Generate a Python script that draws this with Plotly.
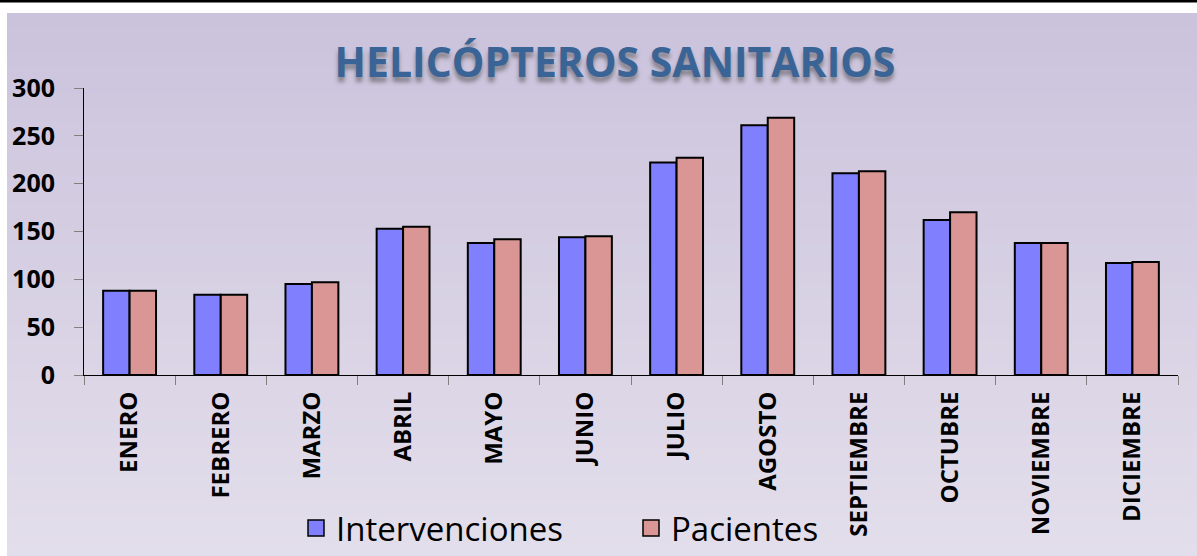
import plotly.graph_objects as go

# monthly data
meses = ['ENERO', 'FEBRERO', 'MARZO', 'ABRIL', 'MAYO', 'JUNIO', 'JULIO',
         'AGOSTO', 'SEPTIEMBRE', 'OCTUBRE', 'NOVIEMBRE', 'DICIEMBRE']
intervenciones = [88, 84, 95, 153, 138, 144, 222, 261, 211, 162, 138, 117]
pacientes = [88, 84, 97, 155, 142, 145, 227, 269, 213, 170, 138, 118]
y_ticks = [0, 50, 100, 150, 200, 250, 300]

W, H = 1197, 556
FONT = 'Open Sans'
COL_INT = '#8080FF'
COL_PAC = '#D99694'


def hex_mix(c1, c2, t):
    a = [int(c1[i:i + 2], 16) for i in (1, 3, 5)]
    b = [int(c2[i:i + 2], 16) for i in (1, 3, 5)]
    return '#' + ''.join(f'{round(x + (y - x) * t):02x}' for x, y in zip(a, b))


# pixel -> paper helpers (plot area is 84..1178 x 88..375)
def px(x):
    return (x - 84) / 1094


def py(y):
    return (375 - y) / 287


fig = go.Figure()
fig.add_trace(go.Bar(x=meses, y=intervenciones, name='Intervenciones', showlegend=False,
                     marker=dict(color=COL_INT, line=dict(color='black', width=2))))
fig.add_trace(go.Bar(x=meses, y=pacientes, name='Pacientes', showlegend=False,
                     marker=dict(color=COL_PAC, line=dict(color='black', width=2))))
# legend entries with bigger square swatches
for name, col in [('Intervenciones', COL_INT), ('Pacientes', COL_PAC)]:
    fig.add_trace(go.Scatter(x=[None], y=[None], mode='markers', name=name,
                             marker=dict(symbol='square', size=20, color=col,
                                         line=dict(color='black', width=1.5))))

# background: vertical gradient done with thin bands
shapes = []
n = 40
y_top, y_bot = 13, H
for i in range(n):
    a = y_top + (y_bot - y_top) * i / n
    b = y_top + (y_bot - y_top) * (i + 1) / n + 1.5
    shapes.append(dict(type='rect', xref='paper', yref='paper', layer='below',
                       x0=px(7), x1=px(W + 2), y0=py(b), y1=py(a),
                       fillcolor=hex_mix('#CBC3DC', '#E3DEEB', i / (n - 1)),
                       line=dict(width=0)))
# black rule at the very top
shapes.append(dict(type='line', xref='paper', yref='paper',
                   x0=px(-2), x1=px(W + 2), y0=py(1), y1=py(1),
                   line=dict(color='black', width=3)))

fig.update_layout(
    width=W, height=H,
    margin=dict(l=84, r=19, t=88, b=181, autoexpand=False),
    paper_bgcolor='white',
    plot_bgcolor='rgba(0,0,0,0)',
    shapes=shapes,
    barmode='group',
    bargap=0.42,
    bargroupgap=0,
    title=dict(text='<b>HELICÓPTEROS SANITARIOS</b>', x=615 / W, xanchor='center',
               y=1 - 63 / H, yanchor='middle', yref='container',
               font=dict(family=FONT, size=41, color='#3B6496',
                         shadow='0px 5px 4px rgba(70,70,70,0.55)')),
    legend=dict(orientation='h', x=px(296), xanchor='left',
                y=py(528), yanchor='middle',
                font=dict(family=FONT, size=33, color='black'),
                bgcolor='rgba(0,0,0,0)', entrywidth=290, entrywidthmode='pixels'),
    showlegend=True,
)
fig.update_xaxes(type='category', showgrid=False, showline=True, linecolor='black',
                 linewidth=1, ticks='outside', tickson='boundaries', ticklen=9,
                 tickcolor='#808080', tickangle=-90, ticklabelstandoff=6, automargin=False,
                 tickfont=dict(family=FONT, size=24, color='black', weight='bold'))
fig.update_yaxes(range=[0, 300], tickvals=y_ticks, showgrid=False, showline=True,
                 linecolor='black', linewidth=1, ticks='outside', ticklen=9,
                 tickcolor='#808080', zeroline=False, ticklabelstandoff=14, automargin=False,
                 tickfont=dict(family=FONT, size=25, color='black', weight='bold'))

fig.write_html('out.html', config={'displayModeBar': False},
               post_script="document.body.style.margin='0px';")
